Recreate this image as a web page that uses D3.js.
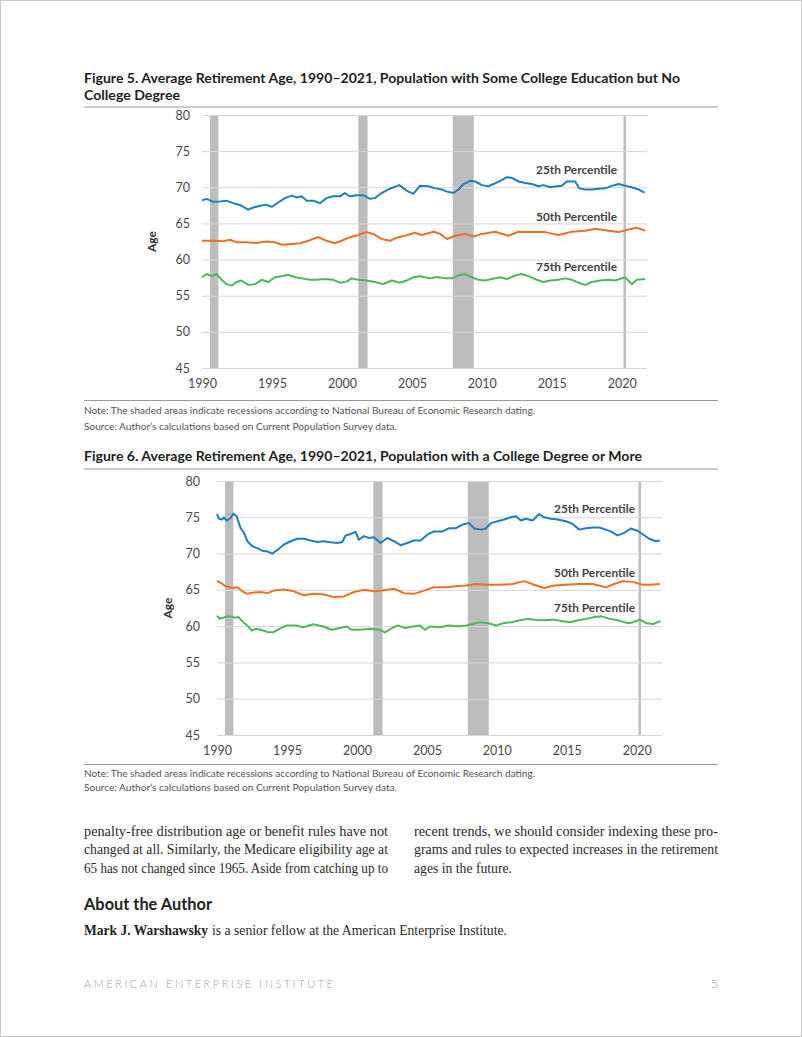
<!DOCTYPE html>
<html><head><meta charset="utf-8">
<script src="https://cdn.jsdelivr.net/npm/d3@7"></script>
<style>
html,body{margin:0;padding:0;background:#fff;}
svg{display:block;}
</style></head>
<body>
<svg id="page" width="802" height="1037"></svg>
<script>
// ---------- DATA ----------
const yTicks = [45, 50, 55, 60, 65, 70, 75, 80];
const xTicks = [1990, 1995, 2000, 2005, 2010, 2015, 2020];
const seriesNames = ["25th Percentile", "50th Percentile", "75th Percentile"];
const recessions = [[1990.58, 1991.17], [2001.17, 2001.83], [2007.92, 2009.42], [2020.12, 2020.3]];

const fig5P25 = [[1990.0,68.2],[1990.33,68.4],[1990.8,68.0],[1991.3,68.05],[1991.76,68.15],[1992.24,67.8],[1992.7,67.55],[1993.3,66.9],[1993.67,67.2],[1994.14,67.45],[1994.6,67.6],[1994.98,67.3],[1995.45,67.9],[1995.93,68.5],[1996.4,68.85],[1996.76,68.6],[1997.12,68.75],[1997.48,68.15],[1997.95,68.15],[1998.43,67.8],[1998.9,68.5],[1999.38,68.75],[1999.86,68.75],[2000.2,69.2],[2000.57,68.75],[2001.05,68.9],[2001.52,68.9],[2002.0,68.4],[2002.36,68.5],[2002.83,69.2],[2003.43,69.8],[2004.1,70.3],[2004.62,69.55],[2005.1,69.1],[2005.57,70.2],[2006.19,70.15],[2006.67,69.85],[2007.14,69.7],[2007.5,69.4],[2007.98,69.2],[2008.33,69.7],[2008.69,70.45],[2009.17,70.9],[2009.52,70.8],[2010.0,70.3],[2010.48,70.15],[2010.83,70.45],[2011.31,70.9],[2011.79,71.4],[2012.14,71.3],[2012.62,70.8],[2013.1,70.6],[2013.57,70.45],[2014.05,70.15],[2014.4,70.3],[2014.88,70.0],[2015.36,70.15],[2015.71,70.2],[2016.07,70.8],[2016.67,70.8],[2016.95,69.85],[2017.38,69.7],[2017.86,69.7],[2018.33,69.8],[2018.81,69.85],[2019.29,70.2],[2019.76,70.45],[2020.24,70.2],[2020.71,70.0],[2021.19,69.7],[2021.62,69.25]];
const fig5P50 = [[1990.0,62.6],[1990.8,62.6],[1991.52,62.55],[1992.0,62.75],[1992.48,62.4],[1993.2,62.4],[1993.9,62.3],[1994.62,62.5],[1995.21,62.4],[1995.7,62.05],[1996.4,62.15],[1997.0,62.25],[1997.6,62.6],[1998.3,63.1],[1998.9,62.6],[1999.5,62.25],[1999.98,62.6],[2000.57,63.1],[2001.17,63.4],[2001.76,63.8],[2002.24,63.55],[2002.83,62.85],[2003.43,62.6],[2004.02,63.1],[2004.5,63.3],[2005.21,63.7],[2005.71,63.4],[2006.55,63.85],[2007.02,63.55],[2007.5,62.85],[2008.1,63.3],[2008.81,63.55],[2009.4,63.2],[2010.0,63.55],[2010.95,63.85],[2011.9,63.3],[2012.62,63.85],[2013.57,63.8],[2014.52,63.8],[2015.48,63.4],[2016.43,63.85],[2017.38,64.0],[2018.1,64.25],[2019.05,64.0],[2019.76,63.8],[2020.48,64.15],[2021.07,64.4],[2021.67,64.0]];
const fig5P75 = [[1990.0,57.55],[1990.33,58.0],[1990.69,57.7],[1991.05,58.0],[1991.4,57.2],[1991.76,56.6],[1992.12,56.4],[1992.48,56.9],[1992.83,57.1],[1993.3,56.5],[1993.79,56.6],[1994.26,57.2],[1994.74,56.9],[1995.21,57.55],[1995.69,57.7],[1996.17,57.9],[1996.64,57.55],[1997.12,57.4],[1997.71,57.2],[1998.19,57.2],[1998.79,57.3],[1999.38,57.2],[1999.86,56.8],[2000.33,56.95],[2000.69,57.4],[2001.17,57.2],[2001.76,57.1],[2002.36,56.9],[2002.95,56.6],[2003.55,57.1],[2004.14,56.8],[2004.62,57.1],[2005.1,57.55],[2005.57,57.7],[2006.3,57.4],[2006.79,57.6],[2007.38,57.4],[2007.86,57.4],[2008.33,57.8],[2008.81,58.0],[2009.29,57.55],[2009.76,57.2],[2010.24,57.1],[2010.71,57.3],[2011.31,57.55],[2011.79,57.3],[2012.38,57.8],[2012.86,58.0],[2013.33,57.7],[2013.93,57.2],[2014.4,56.9],[2014.88,57.1],[2015.48,57.2],[2015.95,57.4],[2016.43,57.2],[2016.9,56.8],[2017.38,56.5],[2017.86,56.9],[2018.45,57.1],[2019.05,57.2],[2019.52,57.1],[2020.24,57.55],[2020.71,56.6],[2021.07,57.2],[2021.67,57.3]];

const fig6P25 = [[1990.0,75.45],[1990.14,74.8],[1990.38,74.7],[1990.5,75.0],[1990.69,74.55],[1990.98,74.9],[1991.17,75.5],[1991.4,75.15],[1991.69,73.5],[1991.93,72.85],[1992.17,71.7],[1992.52,71.0],[1992.88,70.75],[1993.24,70.4],[1993.6,70.3],[1993.95,70.0],[1994.31,70.5],[1994.79,71.25],[1995.26,71.7],[1995.74,72.05],[1996.21,72.05],[1996.69,71.8],[1997.17,71.6],[1997.64,71.7],[1998.12,71.55],[1998.6,71.45],[1998.95,71.6],[1999.19,72.5],[1999.55,72.7],[1999.9,73.0],[2000.14,71.9],[2000.5,72.4],[2000.86,72.15],[2001.21,72.25],[2001.69,71.45],[2002.17,72.15],[2002.64,71.7],[2003.12,71.15],[2003.6,71.45],[2004.07,71.8],[2004.55,71.8],[2005.02,72.6],[2005.5,73.05],[2006.12,73.05],[2006.6,73.5],[2007.07,73.5],[2007.55,74.0],[2008.02,74.2],[2008.38,73.45],[2008.86,73.3],[2009.21,73.45],[2009.57,74.2],[2010.05,74.45],[2010.52,74.7],[2011.0,75.0],[2011.36,75.15],[2011.71,74.55],[2012.07,74.8],[2012.55,74.55],[2013.02,75.45],[2013.38,75.0],[2013.86,74.8],[2014.33,74.7],[2014.93,74.45],[2015.4,74.1],[2015.88,73.3],[2016.36,73.5],[2016.83,73.6],[2017.31,73.6],[2017.79,73.3],[2018.14,73.05],[2018.62,72.5],[2019.1,72.85],[2019.57,73.45],[2020.05,73.15],[2020.4,72.7],[2020.88,72.05],[2021.36,71.7],[2021.64,71.8]];
const fig6P50 = [[1990.0,66.25],[1990.26,65.95],[1990.62,65.5],[1991.1,65.25],[1991.45,65.35],[1991.81,64.8],[1992.17,64.45],[1992.64,64.65],[1993.12,64.7],[1993.6,64.55],[1994.07,64.9],[1994.79,65.05],[1995.5,64.8],[1996.21,64.25],[1996.93,64.45],[1997.64,64.35],[1998.36,64.0],[1999.07,64.1],[1999.79,64.7],[2000.5,65.0],[2001.21,64.8],[2001.81,64.9],[2002.64,65.15],[2003.36,64.55],[2004.07,64.45],[2004.79,64.9],[2005.5,65.35],[2006.36,65.35],[2007.07,65.5],[2007.79,65.6],[2008.5,65.8],[2009.21,65.7],[2010.17,65.7],[2011.12,65.8],[2011.95,66.2],[2012.67,65.7],[2013.38,65.25],[2014.1,65.6],[2014.93,65.7],[2015.88,65.8],[2016.83,65.8],[2017.79,65.35],[2018.38,65.8],[2018.98,66.2],[2019.69,66.1],[2020.4,65.7],[2020.98,65.7],[2021.64,65.8]];
const fig6P75 = [[1990.0,61.45],[1990.2,61.0],[1990.57,61.25],[1990.93,61.35],[1991.29,61.15],[1991.52,61.25],[1991.88,60.55],[1992.24,59.95],[1992.48,59.4],[1992.83,59.65],[1993.31,59.4],[1993.67,59.15],[1994.02,59.15],[1994.5,59.65],[1994.98,60.1],[1995.69,60.1],[1996.17,59.85],[1996.88,60.25],[1997.6,59.95],[1998.19,59.5],[1998.79,59.75],[1999.26,59.95],[1999.62,59.5],[2000.21,59.5],[2000.93,59.65],[2001.64,59.5],[2002.0,59.15],[2002.6,59.85],[2002.95,60.1],[2003.43,59.75],[2004.02,59.95],[2004.5,60.1],[2004.86,59.5],[2005.21,59.95],[2005.93,59.85],[2006.52,60.1],[2007.24,60.0],[2007.83,60.1],[2008.31,60.3],[2008.79,60.55],[2009.38,60.4],[2009.98,60.1],[2010.45,60.4],[2011.05,60.55],[2011.64,60.8],[2012.24,61.0],[2012.83,60.85],[2013.43,60.8],[2014.02,60.9],[2014.62,60.7],[2015.21,60.55],[2015.81,60.8],[2016.4,61.0],[2017.0,61.25],[2017.48,61.35],[2018.07,61.0],[2018.67,60.8],[2019.38,60.4],[2019.74,60.55],[2020.21,60.9],[2020.69,60.4],[2021.17,60.3],[2021.69,60.7]];

const colors = ["#1a7fc5", "#f06f25", "#4db85a"];

// ---------- DRAW ----------
const svg = d3.select("#page");
svg.append("rect").attr("x",0.5).attr("y",0.5).attr("width",801).attr("height",1036)
  .attr("fill","#fff").attr("stroke","#c8c8c8");

const sans = "Lato, 'Open Sans', sans-serif";
const serif = "'Liberation Serif', 'DejaVu Serif', serif";

function rule(y){
  svg.append("line").attr("x1",84).attr("x2",718).attr("y1",y).attr("y2",y)
    .attr("stroke","#9a9a9a").attr("stroke-width",1);
}
function txt(x,y,s,opt={}){
  const t = svg.append("text").attr("x",x).attr("y",y).text(s)
    .attr("font-family",opt.family||sans).attr("font-size",opt.size||12)
    .attr("font-weight",opt.weight||"normal").attr("fill",opt.fill||"#222");
  if(opt.anchor) t.attr("text-anchor",opt.anchor);
  if(opt.len) t.attr("textLength",opt.len).attr("lengthAdjust",opt.adjust||"spacingAndGlyphs");
  if(opt.ls) t.attr("letter-spacing",opt.ls);
  return t;
}

function chart(cfg){
  const x = d3.scaleLinear().domain([1990, 2021.8]).range([cfg.left, cfg.right]);
  const y = d3.scaleLinear().domain([45, 80]).range([cfg.bottom, cfg.top]);
  const g = svg.append("g");
  // recession bands
  g.selectAll("rect.rec").data(recessions).join("rect")
    .attr("x", d => x(d[0])).attr("width", d => Math.max(2, x(d[1]) - x(d[0])))
    .attr("y", y(80)).attr("height", y(45) - y(80)).attr("fill", "#bdbdbd");
  // gridlines
  const grid = g.append("g").attr("transform", `translate(${cfg.left},0)`)
    .call(d3.axisLeft(y).tickValues(yTicks).tickSize(-(cfg.right - cfg.left)).tickFormat(""));
  grid.select(".domain").remove();
  grid.selectAll("line").attr("stroke", "#d6d6d6").attr("stroke-width", 1);
  // y labels
  const ya = g.append("g").attr("transform", `translate(${cfg.left - cfg.ygap},0)`)
    .call(d3.axisLeft(y).tickValues(yTicks).tickSize(0).tickPadding(0));
  ya.select(".domain").remove();
  ya.selectAll("text").attr("font-family", sans).attr("font-size", 12.5).attr("fill", "#4a4a4a");
  // x labels
  const xa = g.append("g").attr("transform", `translate(0,${cfg.bottom})`)
    .call(d3.axisBottom(x).tickValues(xTicks).tickSize(0).tickPadding(11).tickFormat(d3.format("d")));
  xa.select(".domain").remove();
  xa.selectAll("text").attr("font-family", sans).attr("font-size", 12.5).attr("fill", "#4a4a4a");
  // Age label
  svg.append("text").attr("transform", `translate(${cfg.ageX},${(cfg.top + cfg.bottom) / 2}) rotate(-90)`)
    .attr("text-anchor", "middle").attr("font-family", sans).attr("font-weight", "bold")
    .attr("font-size", 12).attr("fill", "#333").text("Age");
  // lines
  const line = d3.line().x(d => x(d[0])).y(d => y(d[1]));
  cfg.series.forEach((s, i) => {
    g.append("path").datum(s).attr("d", line).attr("fill", "none")
      .attr("stroke", colors[i]).attr("stroke-width", 2).attr("stroke-linejoin", "round");
  });
  // series labels
  seriesNames.forEach((n, i) => {
    txt(cfg.labelX, cfg.labelY[i], n, {weight: "bold", size: 11.5, fill: "#444", anchor: "end", len: 81});
  });
}

// Figure 5
txt(84, 83, "Figure 5. Average Retirement Age, 1990–2021, Population with Some College Education but No",
  {weight: "bold", size: 13.5, fill: "#1e1e1e", len: 596});
txt(84, 100, "College Degree", {weight: "bold", size: 13.5, fill: "#1e1e1e", len: 96});
rule(107);
chart({left: 202, right: 647, top: 115, bottom: 368, ygap: 12, ageX: 156,
  series: [fig5P25, fig5P50, fig5P75], labelX: 617, labelY: [174, 221, 271]});
rule(400.5);
txt(84, 414, "Note: The shaded areas indicate recessions according to National Bureau of Economic Research dating.",
  {size: 10, fill: "#555", len: 451});
txt(84, 430, "Source: Author’s calculations based on Current Population Survey data.",
  {size: 10, fill: "#555", len: 313});

// Figure 6
txt(84, 461, "Figure 6. Average Retirement Age, 1990–2021, Population with a College Degree or More",
  {weight: "bold", size: 13.5, fill: "#1e1e1e", len: 558});
rule(469);
chart({left: 217, right: 662, top: 481, bottom: 735, ygap: 17, ageX: 172,
  series: [fig6P25, fig6P50, fig6P75], labelX: 635, labelY: [513, 577, 612]});
rule(764.5);
txt(84, 777, "Note: The shaded areas indicate recessions according to National Bureau of Economic Research dating.",
  {size: 10, fill: "#555", len: 451});
txt(84, 791, "Source: Author’s calculations based on Current Population Survey data.",
  {size: 10, fill: "#555", len: 313});

// Body text
const bodyLeft = ["penalty-free distribution age or benefit rules have not",
  "changed at all. Similarly, the Medicare eligibility age at",
  "65 has not changed since 1965. Aside from catching up to"];
const bodyRight = ["recent trends, we should consider indexing these pro-",
  "grams and rules to expected increases in the retirement",
  "ages in the future."];
bodyLeft.forEach((s, i) => txt(84, 836 + i * 18.3, s, {family: serif, size: 14.5, fill: "#2a2a2a", len: 304}));
bodyRight.forEach((s, i) => txt(414, 836 + i * 18.3, s, {family: serif, size: 14.5, fill: "#2a2a2a", len: i < 2 ? 304 : 98}));

txt(84, 910, "About the Author", {weight: "bold", size: 17, fill: "#222", len: 128});
txt(84, 935, "Mark J. Warshawsky", {family: serif, weight: "bold", size: 14.5, fill: "#222", len: 124});
txt(212, 935, "is a senior fellow at the American Enterprise Institute.", {family: serif, size: 14.5, fill: "#2a2a2a", len: 295});

// Footer
txt(84, 988, "AMERICAN ENTERPRISE INSTITUTE", {size: 11, fill: "#a0a0a0", len: 249, adjust: "spacing", weight: 300});
txt(718, 988, "5", {size: 12, fill: "#a0a0a0", anchor: "end", weight: 300});
</script>
</body></html>
